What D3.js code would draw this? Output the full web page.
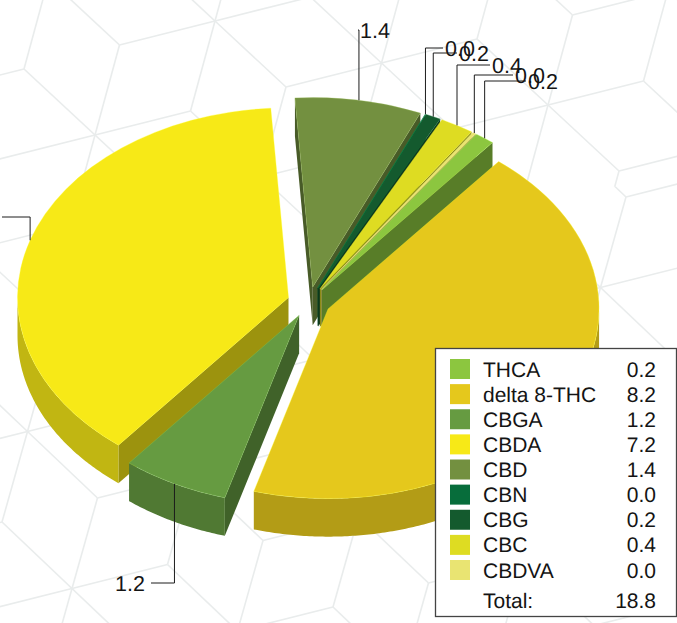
<!DOCTYPE html>
<html>
<head>
<meta charset="utf-8">
<script src="https://cdn.jsdelivr.net/npm/d3@7"></script>
<style>
  html, body { margin: 0; padding: 0; background: #fff; overflow: hidden; }
  svg { display: block; }
  text { font-family: "Liberation Sans", Arial, sans-serif; fill: #141414; text-rendering: geometricPrecision; }
</style>
</head>
<body>
<svg id="chart" width="677" height="623"></svg>
<script>
// Chart data, legend order
const names = ["THCA", "delta 8-THC", "CBGA", "CBDA", "CBD", "CBN", "CBG", "CBC", "CBDVA"];
const values = [0.22, 8.2, 1.2, 7.18, 1.42, 0.005, 0.17, 0.38, 0.04];
const colors = ["#8cc63f", "#e5c81c", "#669b41", "#f7e917", "#739040", "#076d3b", "#145a2e", "#dedc22", "#e9e472"];
const totalLabel = "18.8";

const svg = d3.select("#chart");
const width = +svg.attr("width");
const height = +svg.attr("height");

// Pie geometry
const cx = 309, cy = 302;
const rx = 271, tilt = 0.7;
const depth = 38;
const explode = 21.5;
const rotation = 34.8 * Math.PI / 180;

// Background cube pattern: triangular lattice, every third point has six spokes.
// The picture is made of two tiles that meet along a slanted seam.
function seamY(x) {
    return 185 + (620 - x) * 0.25;
}

const defs = svg.append("defs");
defs.append("clipPath").attr("id", "upperTile").append("polygon")
    .attr("points", [[0, 0], [width, 0], [width, seamY(width)], [0, seamY(0)]].join(" "));
defs.append("clipPath").attr("id", "lowerTile").append("polygon")
    .attr("points", [[0, seamY(0)], [width, seamY(width)], [width, height], [0, height]].join(" "));

function drawTile(clipId, origin, a, b) {
    const g = svg.append("g")
        .attr("clip-path", `url(#${clipId})`)
        .attr("stroke", "#e9ecec")
        .attr("stroke-width", 1.6)
        .attr("fill", "none");
    const steps = [[1, 0], [0, 1], [-1, 1], [-1, 0], [0, -1], [1, -1]];
    const point = (i, j) => [origin[0] + i * a[0] + j * b[0], origin[1] + i * a[1] + j * b[1]];
    d3.range(-10, 14).forEach(i => {
        d3.range(-10, 14).forEach(j => {
            if (((i - j) % 3 + 3) % 3 !== 0) return;
            const p = point(i, j);
            steps.forEach(s => {
                const q = point(i + s[0], j + s[1]);
                g.append("line")
                    .attr("x1", p[0]).attr("y1", p[1])
                    .attr("x2", q[0]).attr("y2", q[1]);
            });
        });
    });
}

function darken(color, f) {
    const c = d3.rgb(color);
    return d3.rgb(c.r * f, c.g * f, c.b * f).formatHex();
}

drawTile("upperTile", [95, 135], [95.5, -24], [71, 66]);
drawTile("lowerTile", [104, 160], [95.5, -24], [70, 66.5]);

const pie = d3.pie()
    .sort(null)
    .startAngle(rotation)
    .endAngle(rotation + 2 * Math.PI);

const arc = d3.arc().innerRadius(0).outerRadius(rx);
const wallLine = d3.line();

const slices = pie(values).map((d, i) => {
    const mid = (d.startAngle + d.endAngle) / 2;
    return {
        ...d,
        name: names[i],
        color: colors[i],
        mid: mid,
        ox: cx + explode * Math.sin(mid),
        oy: cy - explode * Math.cos(mid) * tilt
    };
});

function project(s, angle, r = rx) {
    return [s.ox + r * Math.sin(angle), s.oy - r * Math.cos(angle) * tilt];
}

// Back to front, so nearer slices cover the walls of those behind
const paintOrder = slices.slice().sort((p, q) => d3.ascending(-Math.cos(p.mid), -Math.cos(q.mid)));

const pieGroup = svg.append("g");
paintOrder.forEach(s => {
    const g = pieGroup.append("g");
    const faceColor = darken(s.color, 0.63);
    const wallColor = darken(s.color, 0.78);

    // cut faces
    [[s.startAngle, Math.sin(s.startAngle) < 0], [s.endAngle, Math.sin(s.endAngle) > 0]].forEach(([angle, visible]) => {
        if (!visible) return;
        const c = project(s, angle);
        const pts = [[s.ox, s.oy], c, [c[0], c[1] + depth], [s.ox, s.oy + depth]];
        g.append("path")
            .attr("d", wallLine(pts) + "Z")
            .attr("fill", faceColor);
    });

    // outer wall, only the part facing the viewer
    const from = Math.max(s.startAngle, Math.PI / 2);
    const to = Math.min(s.endAngle, 3 * Math.PI / 2);
    if (to > from) {
        const angles = d3.range(from, to, 0.01).concat([to]);
        const upper = angles.map(t => project(s, t));
        const lower = upper.map(p => [p[0], p[1] + depth]).reverse();
        g.append("path")
            .attr("d", wallLine(upper.concat(lower)) + "Z")
            .attr("fill", wallColor);
    }

    // top surface, with the faint lighter rim the original has
    g.append("path")
        .attr("d", arc(s))
        .attr("transform", `translate(${s.ox},${s.oy}) scale(1,${tilt})`)
        .attr("fill", s.color)
        .attr("stroke", d3.rgb(s.color).brighter(0.8).formatHex())
        .attr("stroke-width", 0.6)
        .attr("stroke-opacity", 0.55)
        .attr("vector-effect", "non-scaling-stroke");
});

// Leader lines with their labels: where each label sits.
// The CBDA label falls outside the picture, so only its leader shows.
const labelSpots = {
    "CBDA": { y: 217, x: -4, anchor: "end", hidden: true },
    "CBGA": { y: 583, x: 145, anchor: "end" },
    "CBD": { y: 30, x: 360, anchor: "start" },
    "CBN": { y: 48, x: 445, anchor: "start" },
    "CBG": { y: 53, x: 459, anchor: "start" },
    "CBC": { y: 65, x: 492, anchor: "start" },
    "CBDVA": { y: 75, x: 515, anchor: "start" },
    "THCA": { y: 81, x: 528, anchor: "start" }
};

const leaders = svg.append("g");
slices.forEach((s, i) => {
    const spot = labelSpots[s.name];
    if (!spot) return;
    const p = project(s, s.mid);
    const endX = spot.anchor === "end" ? spot.x + 6 : spot.x - 2;
    leaders.append("path")
        .attr("d", wallLine([p, [p[0], spot.y], [endX, spot.y]]))
        .attr("fill", "none")
        .attr("stroke", "#1c1c1c")
        .attr("stroke-width", 1);
    if (spot.hidden) return;
    leaders.append("text")
        .attr("x", spot.x)
        .attr("y", spot.y)
        .attr("dy", "0.36em")
        .attr("text-anchor", spot.anchor)
        .attr("font-size", 21.5)
        .text(values[i].toFixed(1));
});

// Legend
const legend = svg.append("g");
legend.append("rect")
    .attr("x", 435.5).attr("y", 348.5)
    .attr("width", 241).attr("height", 268)
    .attr("fill", "#fff")
    .attr("stroke", "#444")
    .attr("stroke-width", 1.3);

const rowY = d3.scalePoint()
    .domain(names)
    .range([369, 570]);

const rows = legend.selectAll("g.row")
    .data(slices)
    .enter().append("g")
    .attr("class", "row")
    .attr("transform", d => `translate(0,${rowY(d.name)})`);

rows.append("rect")
    .attr("x", 450).attr("y", -10)
    .attr("width", 20).attr("height", 20)
    .attr("fill", d => d.color);

rows.append("text")
    .attr("x", 483)
    .attr("dy", "0.36em")
    .attr("font-size", 21)
    .text(d => d.name);

rows.append("text")
    .attr("x", 656)
    .attr("dy", "0.36em")
    .attr("text-anchor", "end")
    .attr("font-size", 21)
    .text(d => d.value.toFixed(1));

legend.append("text")
    .attr("x", 483).attr("y", 600)
    .attr("dy", "0.36em")
    .attr("font-size", 21)
    .text("Total:");

legend.append("text")
    .attr("x", 656).attr("y", 600)
    .attr("dy", "0.36em")
    .attr("text-anchor", "end")
    .attr("font-size", 21)
    .text(totalLabel);
</script>
</body>
</html>
